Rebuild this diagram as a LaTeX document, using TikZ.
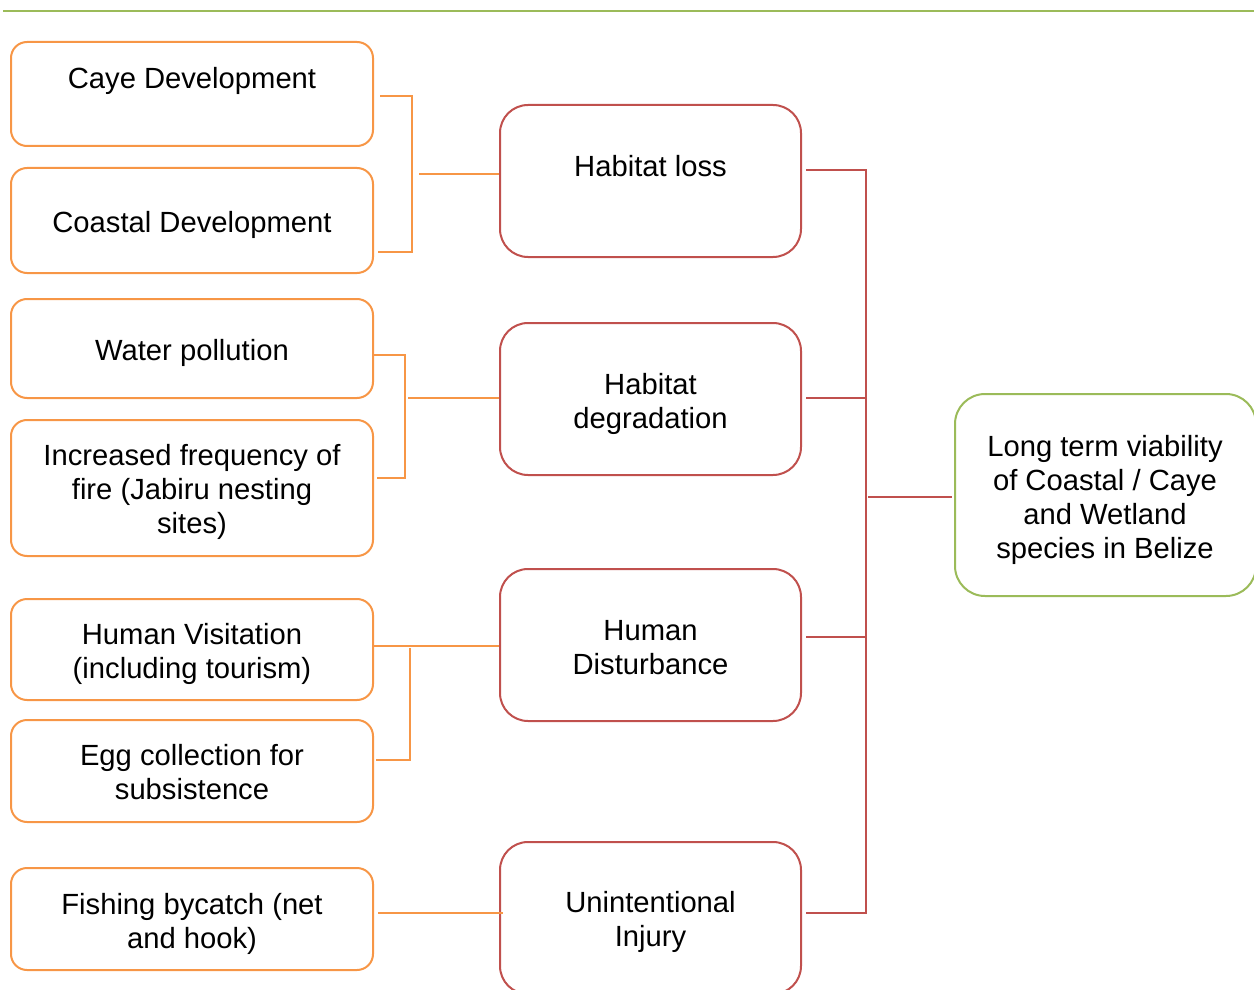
\documentclass[tikz,border=0pt]{standalone}
\usepackage{fontspec}
\setmainfont{Liberation Sans}
\usetikzlibrary{calc}
\definecolor{accorange}{HTML}{F79646}
\definecolor{accred}{HTML}{C0504D}
\definecolor{accgreen}{HTML}{9BBB59}
\begin{document}
\begin{tikzpicture}[x=0.5pt,y=-0.5pt,
  label/.style={font=\fontsize{14.6}{17}\selectfont,align=center,inner sep=0pt},
  causebox/.style={draw=accorange,line width=1pt,rounded corners=8pt,minimum width=181pt,inner sep=0pt},
  threatbox/.style={draw=accred,line width=1pt,rounded corners=14pt,minimum width=150.5pt,minimum height=76pt,inner sep=0pt},
  goalbox/.style={draw=accgreen,line width=1pt,rounded corners=15pt,minimum width=150.5pt,minimum height=101pt,inner sep=0pt},
  orangelink/.style={draw=accorange,line width=1pt},
  redlink/.style={draw=accred,line width=1pt}]
\useasboundingbox (0,0) rectangle (1254,990);
\clip (0,0) rectangle (1254,990);

% header rule
\coordinate (ruleL) at (3,11);
\coordinate (ruleR) at (1254,11);
\draw[accgreen,line width=1pt] (ruleL) -- (ruleR);

% contributing factors
\node[causebox,minimum height=52pt]   (caye)    at (192,94)    {};
\node[causebox,minimum height=52.5pt] (coastal) at (192,220.5) {};
\node[causebox,minimum height=49.5pt] (water)   at (192,348.5) {};
\node[causebox,minimum height=68pt]   (fire)    at (192,488)   {};
\node[causebox,minimum height=50.5pt] (visit)   at (192,649.5) {};
\node[causebox,minimum height=51pt]   (egg)     at (192,771)   {};
\node[causebox,minimum height=51pt]   (fish)    at (192,919)   {};

\node[label] (cayeT)    at (192,81)  {Caye Development};
\node[label] (coastalT) at (192,225) {Coastal Development};
\node[label] (waterT)   at (192,353) {Water pollution};
\node[label] (fireT)    at (192,492) {Increased frequency of\\fire (Jabiru nesting\\sites)};
\node[label] (visitT)   at (192,654) {Human Visitation\\(including tourism)};
\node[label] (eggT)     at (192,772) {Egg collection for\\subsistence};
\node[label] (fishT)    at (192,924) {Fishing bycatch (net\\and hook)};

% threats
\node[threatbox] (loss) at (650.5,181) {};
\node[threatbox] (degr) at (650.5,399) {};
\node[threatbox] (dist) at (650.5,645) {};
\node[threatbox] (inj)  at (650.5,918) {};

\node[label] (lossT) at (650.5,166) {Habitat loss};
\node[label] (degrT) at (650.5,404) {Habitat\\degradation};
\node[label] (distT) at (650.5,648) {Human\\Disturbance};
\node[label] (injT)  at (650.5,922) {Unintentional\\Injury};

% target
\node[goalbox] (goal) at (1105.5,495) {};
\node[label] (goalT) at (1105,500) {Long term viability\\of Coastal / Caye\\and Wetland\\species in Belize};

% brackets from factors to threats
\coordinate (b1) at (412,174);
\draw[orangelink] ($(caye.east)+(6,2)$) -| (b1) |- ($(coastal.east)+(4,31.5)$);
\draw[orangelink] ($(b1)+(7,0)$) -- (loss.west |- b1);

\coordinate (b2) at (405,398);
\draw[orangelink] ($(water.east)+(0,6.5)$) -| (b2) |- ($(fire.east)+(3,-10)$);
\draw[orangelink] ($(b2)+(3,0)$) -- (degr.west |- b2);

\coordinate (b3) at (410,646);
\draw[orangelink] ($(visit.east)+(0,-3.5)$) -- (dist.west |- b3);
\draw[orangelink] ($(b3)+(0,2)$) |- ($(egg.east)+(2,-11)$);

\draw[orangelink] ($(fish.east)+(4,-6)$) -- ($(inj.west)+(4,-5)$);

% threats to target
\coordinate (sp) at (866,497);
\draw[redlink] ($(loss.east)+(4,-11)$) -| (sp) |- ($(inj.east)+(4,-5)$);
\draw[redlink] ($(degr.east)+(4,-1)$) -| (sp);
\draw[redlink] ($(dist.east)+(4,-8)$) -| (sp);
\draw[redlink] ($(sp)+(2,0)$) -- ($(goal.west |- sp)+(-2,0)$);
\end{tikzpicture}
\end{document}
